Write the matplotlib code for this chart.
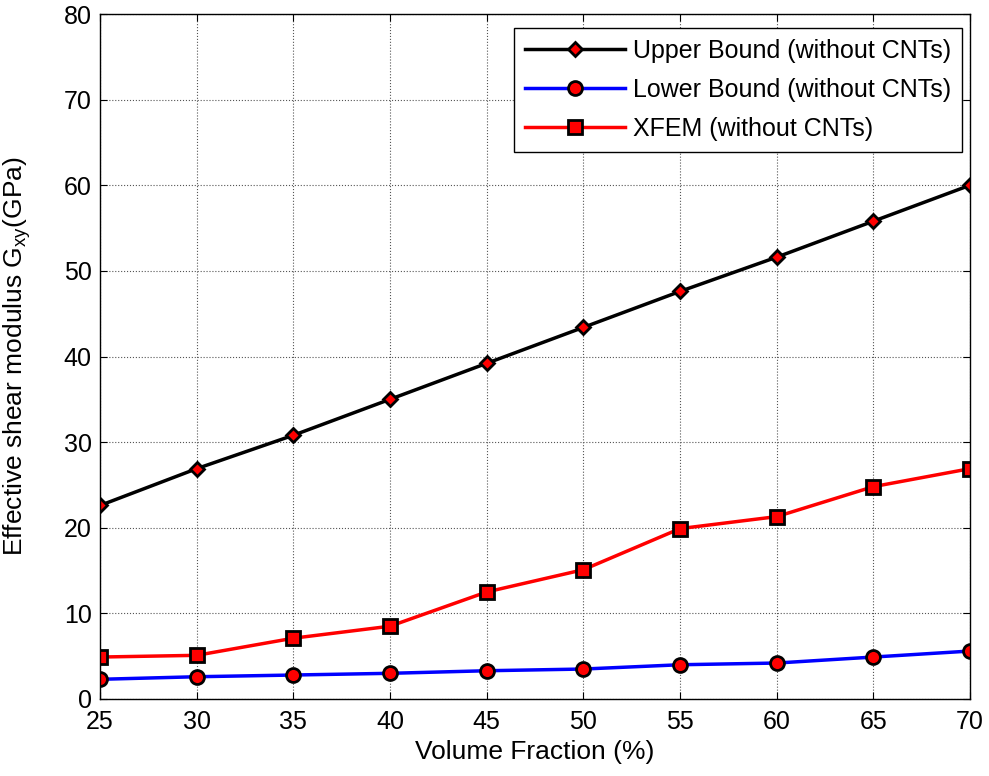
import matplotlib
matplotlib.use("Agg")
import matplotlib.pyplot as plt

vf = [25, 30, 35, 40, 45, 50, 55, 60, 65, 70]
upper = [22.6, 26.9, 30.8, 35.0, 39.2, 43.4, 47.6, 51.6, 55.8, 60.0]
lower = [2.3, 2.6, 2.8, 3.0, 3.3, 3.5, 4.0, 4.2, 4.9, 5.6]
xfem = [4.9, 5.1, 7.1, 8.5, 12.5, 15.1, 19.9, 21.3, 24.8, 26.9]

plt.rcParams['font.family'] = ['Liberation Sans', 'DejaVu Sans']

fig = plt.figure(figsize=(9.89, 7.76), dpi=100)
ax = fig.add_axes([100/989, 77/776, 870/989, 685/776])

ax.plot(vf, upper, color='black', lw=2.5, marker='D', ms=7, mfc='red', mec='black', mew=2,
        label='Upper Bound (without CNTs)')
ax.plot(vf, lower, color='blue', lw=2.5, marker='o', ms=10, mfc='red', mec='black', mew=2,
        label='Lower Bound (without CNTs)')
ax.plot(vf, xfem, color='red', lw=2.5, marker='s', ms=10, mfc='red', mec='black', mew=2,
        label='XFEM (without CNTs)')

ax.set_xlim(25, 70)
ax.set_ylim(0, 80)
ax.set_xticks(vf)
ax.set_yticks(range(0, 81, 10))
ax.grid(True, color='#555555', linestyle=':', linewidth=0.8)
ax.tick_params(direction='in', labelsize=18, length=5, top=True, right=True)
ax.tick_params(axis='x', pad=8)
ax.tick_params(axis='y', pad=6)
for s in ax.spines.values():
    s.set_linewidth(1.0)
ax.set_xlabel('Volume Fraction (%)', fontsize=19, labelpad=4)
ax.set_ylabel('Effective shear modulus G$_{\\mathregular{xy}}$(GPa)', fontsize=19)
ax.yaxis.set_label_coords(-0.077, 0.5)

leg = ax.legend(loc='upper right', fontsize=18, fancybox=False, edgecolor='black',
                framealpha=1, handlelength=4.0, borderpad=0.45, labelspacing=0.6,
                handletextpad=0.3, borderaxespad=0, bbox_to_anchor=(0.991, 0.98))
leg.get_frame().set_linewidth(1.0)

fig.savefig('out.png', dpi=100)
